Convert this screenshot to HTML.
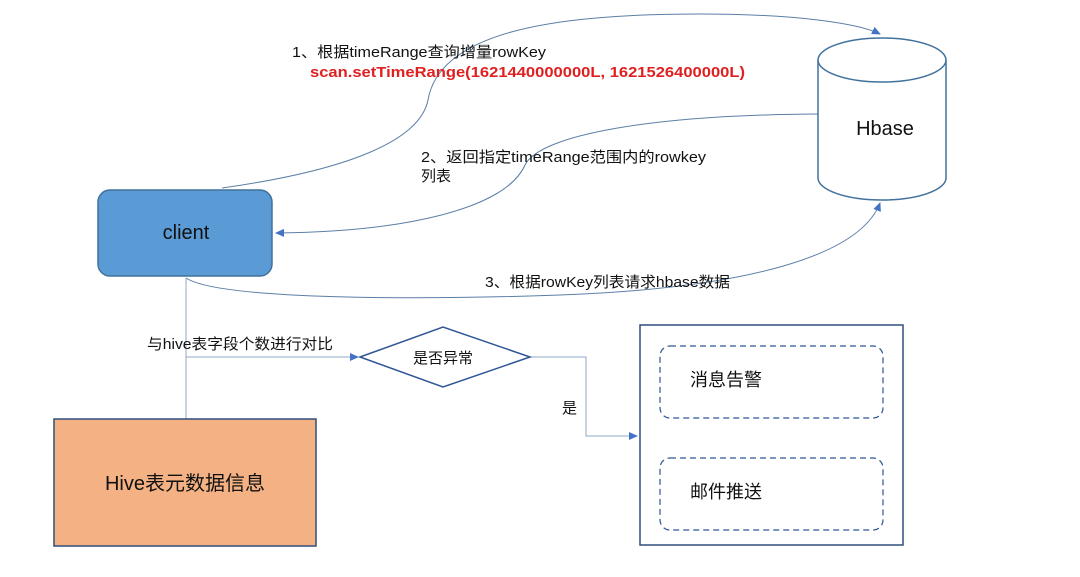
<!DOCTYPE html>
<html><head><meta charset="utf-8"><style>
html,body{margin:0;padding:0;background:#fff;}
svg{display:block;font-family:"Liberation Sans","Noto Sans CJK SC",sans-serif;}
</style></head><body>
<svg width="1080" height="577" viewBox="0 0 1080 577" xmlns="http://www.w3.org/2000/svg">
<defs>
<marker id="a" markerWidth="10" markerHeight="10" refX="8" refY="5" orient="auto" markerUnits="userSpaceOnUse">
<path d="M0,1 L9,5 L0,9 z" fill="#4472c4"/></marker>
</defs>
<path d="M222,188 C350,170 420,140 428,100 C440,30 560,14 700,14 C800,14 860,24 880,34" fill="none" stroke="#5b7fa6" stroke-width="1" marker-end="url(#a)"/>
<path d="M818,114 C650,115 540,135 525,165 C505,210 400,232 276,233" fill="none" stroke="#5b7fa6" stroke-width="1" marker-end="url(#a)"/>
<path d="M186,278 C220,300 420,300 560,295 C750,288 860,255 880,203" fill="none" stroke="#5b7fa6" stroke-width="1" marker-end="url(#a)"/>
<rect x="98" y="190" width="174" height="86" rx="12" fill="#5b9bd5" stroke="#41719c" stroke-width="1.5"/>
<text x="186" y="239" font-size="20" text-anchor="middle" fill="#111">client</text>
<path d="M818,60 L818,178 A64,22 0 0 0 946,178 L946,60" fill="#fff" stroke="#41719c" stroke-width="1.5"/>
<ellipse cx="882" cy="60" rx="64" ry="22" fill="#fff" stroke="#41719c" stroke-width="1.5"/>
<text x="885" y="135" font-size="20" text-anchor="middle" fill="#111">Hbase</text>
<line x1="186" y1="278" x2="186" y2="419" stroke="#8fa8c8" stroke-width="1"/>
<line x1="186" y1="357" x2="358" y2="357" stroke="#8fa8c8" stroke-width="1" marker-end="url(#a)"/>
<polyline points="530,357 586,357 586,436 637,436" fill="none" stroke="#8fa8c8" stroke-width="1" marker-end="url(#a)"/>
<polygon points="360,357 443,327 530,357 443,387" fill="#fff" stroke="#2f5597" stroke-width="1.5"/>
<text x="443" y="363" font-size="15" text-anchor="middle" fill="#111">是否异常</text>
<rect x="54" y="419" width="262" height="127" fill="#f4b183" stroke="#2f4f7f" stroke-width="1.5"/>
<text x="185" y="490" font-size="20" text-anchor="middle" fill="#111">Hive表元数据信息</text>
<rect x="640" y="325" width="263" height="220" fill="#fff" stroke="#2f4f7f" stroke-width="1.5"/>
<rect x="660" y="346" width="223" height="72" rx="10" fill="none" stroke="#2f5597" stroke-width="1.2" stroke-dasharray="6,4"/>
<rect x="660" y="458" width="223" height="72" rx="10" fill="none" stroke="#2f5597" stroke-width="1.2" stroke-dasharray="6,4"/>
<text x="690" y="386" font-size="18" fill="#111">消息告警</text>
<text x="690" y="498" font-size="18" fill="#111">邮件推送</text>
<text x="292" y="57" font-size="15" fill="#111" textLength="254" lengthAdjust="spacingAndGlyphs">1、根据timeRange查询增量rowKey</text>
<text x="310" y="77" font-size="15" font-weight="bold" fill="#e02020" textLength="435" lengthAdjust="spacingAndGlyphs">scan.setTimeRange(1621440000000L, 1621526400000L)</text>
<text x="421" y="162" font-size="15" fill="#111" textLength="285" lengthAdjust="spacingAndGlyphs">2、返回指定timeRange范围内的rowkey</text>
<text x="421" y="181" font-size="15" fill="#111">列表</text>
<text x="485" y="287" font-size="15" fill="#111" textLength="245" lengthAdjust="spacingAndGlyphs">3、根据rowKey列表请求hbase数据</text>
<text x="147" y="349" font-size="15" fill="#111" textLength="186" lengthAdjust="spacingAndGlyphs">与hive表字段个数进行对比</text>
<text x="562" y="413" font-size="15" fill="#111">是</text>
</svg>
</body></html>
